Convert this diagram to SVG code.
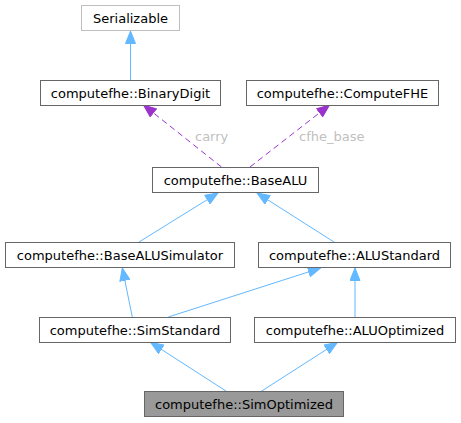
<svg xmlns="http://www.w3.org/2000/svg" width="461" height="423" viewBox="0 0 461 423">
<style>
.n rect{fill:#ffffff;stroke:#666666;stroke-width:1}
.n text{font-family:"DejaVu Sans",sans-serif;font-size:13px;fill:#000000;text-anchor:middle}
#serializable rect{stroke:#bfbfbf}
#simoptimized rect{fill:#999999}
.e{fill:none;stroke:#63b8ff;stroke-width:1}
.d{fill:none;stroke:#9a32cd;stroke-width:1;stroke-dasharray:6,4}
.lbl{font-family:"DejaVu Sans",sans-serif;font-size:13px;fill:#bfbfbf}
</style>
<defs>
<marker id="ab" markerUnits="userSpaceOnUse" markerWidth="14" markerHeight="11" refX="13" refY="5.5" orient="auto" viewBox="0 0 14 11">
<path d="M0.5,0.5 L13,5.5 L0.5,10.5 z" fill="#63b8ff" stroke="#63b8ff" stroke-width="1"/>
</marker>
<marker id="ap" markerUnits="userSpaceOnUse" markerWidth="14" markerHeight="11" refX="13" refY="5.5" orient="auto" viewBox="0 0 14 11">
<path d="M0.5,0.5 L13,5.5 L0.5,10.5 z" fill="#9a32cd" stroke="#9a32cd" stroke-width="1"/>
</marker>
</defs>
<g id="edges">
<path class="e" d="M130.5,80 L130.5,31" marker-end="url(#ab)"/>
<path class="d" d="M221.5,167 L143.5,105" marker-end="url(#ap)"/>
<path class="d" d="M250,167 L329.5,105" marker-end="url(#ap)"/>
<path class="e" d="M139,242 L218,193" marker-end="url(#ab)"/>
<path class="e" d="M334,242 L257,193" marker-end="url(#ab)"/>
<path class="e" d="M132.3,317 L122.3,268" marker-end="url(#ab)"/>
<path class="e" d="M168.3,317 L320.7,268" marker-end="url(#ab)"/>
<path class="e" d="M355,317 L355,268" marker-end="url(#ab)"/>
<path class="e" d="M226.7,391.5 L150.7,342.5" marker-end="url(#ab)"/>
<path class="e" d="M261,391.5 L337.3,342.5" marker-end="url(#ab)"/>
<text class="lbl" x="195" y="140.5">carry</text>
<text class="lbl" x="299" y="140.5">cfhe_base</text>
</g>
<g id="serializable" class="n"><rect x="81.5" y="5.5" width="98" height="25"/><text x="130.5" y="22.5">Serializable</text></g>
<g id="binarydigit" class="n"><rect x="40.5" y="80.5" width="180" height="25"/><text x="130.5" y="97.5">computefhe::BinaryDigit</text></g>
<g id="computefhe" class="n"><rect x="246.5" y="80.5" width="192" height="25"/><text x="342.5" y="97.5">computefhe::ComputeFHE</text></g>
<g id="basealu" class="n"><rect x="152.5" y="167.5" width="166" height="25"/><text x="235.5" y="184.5">computefhe::BaseALU</text></g>
<g id="basealusimulator" class="n"><rect x="5.5" y="242.5" width="229" height="25"/><text x="120" y="259.5">computefhe::BaseALUSimulator</text></g>
<g id="alustandard" class="n"><rect x="258.5" y="242.5" width="192" height="25"/><text x="354.5" y="259.5">computefhe::ALUStandard</text></g>
<g id="simstandard" class="n"><rect x="39.5" y="317.5" width="191" height="25"/><text x="135" y="334.5">computefhe::SimStandard</text></g>
<g id="aluoptimized" class="n"><rect x="254.5" y="317.5" width="201" height="25"/><text x="355" y="334.5">computefhe::ALUOptimized</text></g>
<g id="simoptimized" class="n"><rect x="144.5" y="391.5" width="199" height="25"/><text x="244" y="408.5">computefhe::SimOptimized</text></g>
</svg>
